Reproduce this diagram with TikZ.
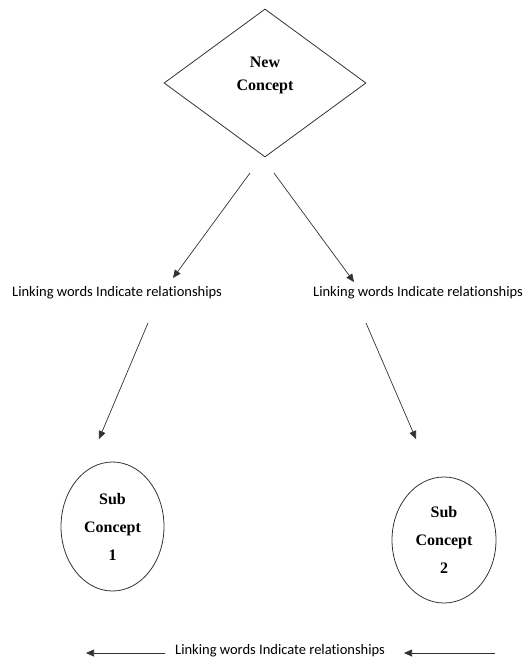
\documentclass[tikz,border=0pt]{standalone}
\usepackage{fontspec}
\setmainfont{Liberation Serif}
\newfontfamily\linkfont[Ligatures=NoCommon]{Carlito}
\usetikzlibrary{shapes.geometric,arrows.meta}
\begin{document}
\begin{tikzpicture}[x=1pt,y=-1pt,
  shapeline/.style={draw=black!80, line width=0.8pt},
  concepttext/.style={font=\fontsize{16}{23}\selectfont\bfseries, align=center, inner sep=0pt},
  subtext/.style={font=\fontsize{16}{28}\selectfont\bfseries, align=center},
  linktext/.style={font=\linkfont\fontsize{14.5}{16}\selectfont, inner sep=0pt, anchor=west},
  conn/.style={draw=black!80, line width=0.7pt, -{Triangle[length=8pt,width=7pt]}}]
\useasboundingbox (0,0) rectangle (526,664);
% diamond
\node[shapeline, diamond, inner sep=0pt, minimum width=202pt, minimum height=148pt] (dia) at (265,83) {};
\node[concepttext] (diatext) at (265,75) {New\\Concept};
% ellipses
\node[shapeline, ellipse, inner sep=0pt, minimum width=103pt, minimum height=129pt, subtext] (sub1) at (112.5,526.5) {Sub\\Concept\\1};
\node[shapeline, ellipse, inner sep=0pt, minimum width=104pt, minimum height=126pt, subtext] (sub2) at (444,540) {Sub\\Concept\\2};
% link labels
\node[linktext] (link1) at (12,293) {Linking words Indicate relationships};
\node[linktext] (link2) at (313,293) {Linking words Indicate relationships};
\node[linktext] (link3) at (175,651) {Linking words Indicate relationships};
% arrow endpoints
\coordinate (a1s) at (250,173);
\coordinate (a1e) at (173,278);
\coordinate (a2s) at (274,173);
\coordinate (a2e) at (354,282);
\coordinate (a3s) at (148,323);
\coordinate (a3e) at (99,439);
\coordinate (a4s) at (366,323);
\coordinate (a4e) at (416,439);
\coordinate (a5s) at (165,653);
\coordinate (a5e) at (86,653);
\coordinate (a6s) at (495,653);
\coordinate (a6e) at (404,653);
\draw[conn] (a1s) -- (a1e);
\draw[conn] (a2s) -- (a2e);
\draw[conn] (a3s) -- (a3e);
\draw[conn] (a4s) -- (a4e);
\draw[conn] (a5s) -- (a5e);
\draw[conn] (a6s) -- (a6e);
\end{tikzpicture}
\end{document}
